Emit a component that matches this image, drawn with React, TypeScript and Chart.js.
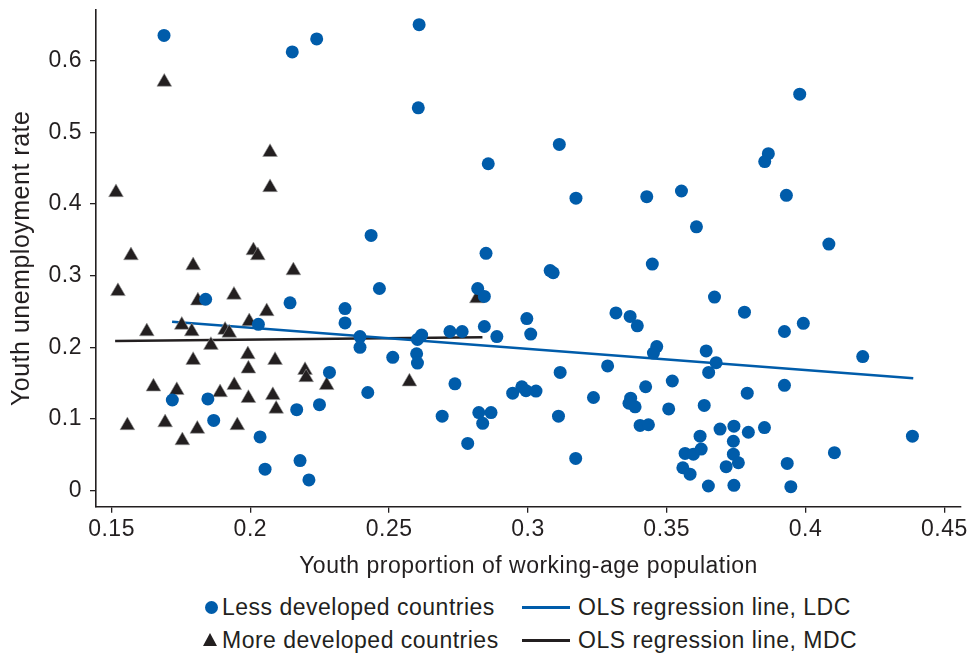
import React, { useEffect, useRef } from 'react';
import { Chart, registerables } from 'chart.js';

Chart.register(...registerables);

// ---------- data ----------
const ldcX = [
  0.1689, 0.2151, 0.2239, 0.2608, 0.2605, 0.3113, 0.2857, 0.3173, 0.3428, 0.2435,
  0.2849, 0.308, 0.3091, 0.3979, 0.3866, 0.3853, 0.3553, 0.3931, 0.3607, 0.4084,
  0.3448, 0.1839, 0.1719, 0.1847, 0.1868, 0.2029, 0.2143, 0.2341, 0.2341, 0.2285,
  0.2167, 0.2249, 0.2035, 0.2053, 0.2179, 0.2211, 0.2465, 0.2395, 0.2395, 0.2513,
  0.2617, 0.2602, 0.2599, 0.2602, 0.2423, 0.2719, 0.2763, 0.2819, 0.2843, 0.2843,
  0.2888, 0.2996, 0.301, 0.2737, 0.2691, 0.2823, 0.2867, 0.2837, 0.2783, 0.2945,
  0.2978, 0.2993, 0.3029, 0.311, 0.3116, 0.3672, 0.378, 0.3317, 0.3368, 0.3394,
  0.3464, 0.3452, 0.3642, 0.3678, 0.3651, 0.379, 0.3635, 0.3287, 0.3236, 0.3424,
  0.352, 0.337, 0.3364, 0.3386, 0.3507, 0.3404, 0.3434, 0.3172, 0.3692, 0.3742,
  0.3794, 0.3852, 0.362, 0.374, 0.3566, 0.3596, 0.3624, 0.374, 0.3758, 0.3714,
  0.3558, 0.3584, 0.365, 0.3742, 0.3924, 0.3992, 0.4206, 0.3924, 0.4385, 0.4104,
  0.3934, 0.3947,
];
const ldcY = [
  0.635, 0.612, 0.63, 0.65, 0.534, 0.483, 0.456, 0.408, 0.41, 0.356,
  0.331, 0.307, 0.304, 0.553, 0.47, 0.459, 0.418, 0.412, 0.368, 0.344,
  0.316, 0.267, 0.1265, 0.128, 0.098, 0.232, 0.262, 0.254, 0.234, 0.165,
  0.113, 0.12, 0.075, 0.03, 0.042, 0.015, 0.282, 0.215, 0.2, 0.186,
  0.217, 0.211, 0.191, 0.178, 0.137, 0.222, 0.222, 0.282, 0.271, 0.229,
  0.215, 0.24, 0.2185, 0.149, 0.104, 0.109, 0.109, 0.094, 0.066, 0.136,
  0.145, 0.1395, 0.139, 0.104, 0.165, 0.27, 0.249, 0.248, 0.243, 0.23,
  0.201, 0.192, 0.195, 0.1785, 0.165, 0.136, 0.119, 0.174, 0.13, 0.145,
  0.153, 0.129, 0.122, 0.117, 0.114, 0.091, 0.092, 0.045, 0.086, 0.09,
  0.0815, 0.088, 0.076, 0.069, 0.052, 0.051, 0.058, 0.051, 0.039, 0.0335,
  0.032, 0.023, 0.0066, 0.0075, 0.222, 0.2335, 0.187, 0.147, 0.076, 0.053,
  0.038, 0.0056,
];
const mdcX = [
  0.169, 0.1516, 0.157, 0.1523, 0.1794, 0.1557, 0.1627, 0.1753, 0.1789, 0.1858,
  0.1811, 0.1941, 0.1909, 0.1924, 0.1996, 0.1991, 0.1993, 0.1794, 0.1651, 0.1735,
  0.1891, 0.1942, 0.1993, 0.1693, 0.1809, 0.1755, 0.1953, 0.2011, 0.2027, 0.2071,
  0.2071, 0.2155, 0.2059, 0.2089, 0.2197, 0.2201, 0.2275, 0.2081, 0.2093, 0.2573,
  0.2816,
];
const mdcY = [
  0.57, 0.416, 0.328, 0.278, 0.314, 0.091, 0.222, 0.231, 0.222, 0.203,
  0.265, 0.273, 0.224, 0.22, 0.236, 0.19, 0.17, 0.182, 0.145, 0.14,
  0.137, 0.147, 0.129, 0.095, 0.086, 0.07, 0.091, 0.335, 0.328, 0.472,
  0.423, 0.307, 0.25, 0.182, 0.168, 0.158, 0.147, 0.133, 0.114, 0.152,
  0.268,
];
const olsLdcX = [0.1718, 0.4388];
const olsLdcY = [0.2357, 0.1568];
const olsMdcX = [0.1513, 0.2836];
const olsMdcY = [0.2088, 0.214];

const xTicks = [0.15, 0.2, 0.25, 0.3, 0.35, 0.4, 0.45];
const xTickLabels = ['0.15', '0.2', '0.25', '0.3', '0.35', '0.4', '0.45'];
const yTicks = [0, 0.1, 0.2, 0.3, 0.4, 0.5, 0.6];
const yTickLabels = ['0', '0.1', '0.2', '0.3', '0.4', '0.5', '0.6'];
const xMin = 0.1444;
const xMax = 0.456;
const yMin = -0.0223;
const yMax = 0.6704;

const seriesLabels = [
  'Less developed countries',
  'More developed countries',
  'OLS regression line, LDC',
  'OLS regression line, MDC',
];
const xTitle = 'Youth proportion of working-age population';
const yTitle = 'Youth unemployment rate';

// ---------- style ----------
const BLUE = '#005CAA';
const DARK = '#231F20';
const FONT = '"Liberation Sans", Arial, sans-serif';
const FONT_SIZE = 23;
const SPACING = '0.5px';

const zip = (xs: number[], ys: number[]) => xs.map((x, i) => ({ x, y: ys[i] }));

const spacingPlugin = {
  id: 'letterSpacing',
  beforeDraw(chart: any) {
    try {
      chart.ctx.letterSpacing = SPACING;
    } catch (e) {
      /* ignore */
    }
  },
};

export default function App() {
  const ref = useRef<HTMLCanvasElement | null>(null);

  useEffect(() => {
    if (!ref.current) return;
    const chart = new Chart(ref.current, {
      type: 'scatter',
      data: {
        datasets: [
          {
            label: seriesLabels[0],
            data: zip(ldcX, ldcY),
            backgroundColor: BLUE,
            borderWidth: 0,
            pointStyle: 'circle',
            pointRadius: 6.5,
          },
          {
            label: seriesLabels[1],
            data: zip(mdcX, mdcY),
            backgroundColor: DARK,
            borderColor: '#9a9a9a',
            borderWidth: 0.6,
            pointStyle: 'triangle',
            pointRadius: 8.5,
          },
          {
            type: 'line',
            label: seriesLabels[2],
            data: zip(olsLdcX, olsLdcY),
            borderColor: BLUE,
            borderWidth: 2.6,
            pointRadius: 0,
            showLine: true,
            fill: false,
          },
          {
            type: 'line',
            label: seriesLabels[3],
            data: zip(olsMdcX, olsMdcY),
            borderColor: DARK,
            borderWidth: 2.6,
            pointRadius: 0,
            showLine: true,
            fill: false,
          },
        ],
      },
      plugins: [spacingPlugin],
      options: {
        animation: false,
        responsive: false,
        devicePixelRatio: 1,
        layout: { padding: { top: 10, right: 12, bottom: 0, left: 0 } },
        plugins: {
          legend: { display: false },
          tooltip: { enabled: false },
        },
        scales: {
          x: {
            type: 'linear',
            position: 'bottom',
            min: xMin,
            max: xMax,
            afterBuildTicks: (s: any) => {
              s.ticks = xTicks.map((v) => ({ value: v }));
            },
            afterFit: (s: any) => {
              s.height = 83.3;
              s.paddingLeft = 0;
              s.paddingRight = 0;
            },
            ticks: {
              color: DARK,
              font: { family: FONT, size: FONT_SIZE },
              padding: 3.5,
              maxRotation: 0,
              autoSkip: false,
              callback: (_v: any, i: number) => xTickLabels[i],
            },
            grid: {
              drawOnChartArea: false,
              drawTicks: true,
              tickLength: 6,
              color: DARK,
              lineWidth: 1.3,
            },
            border: { display: true, color: DARK, width: 1.6 },
            title: {
              display: true,
              text: xTitle,
              color: DARK,
              font: { family: FONT, size: FONT_SIZE },
              padding: { top: 0, bottom: 10 },
            },
          },
          y: {
            type: 'linear',
            min: yMin,
            max: yMax,
            afterBuildTicks: (s: any) => {
              s.ticks = yTicks.map((v) => ({ value: v }));
            },
            afterFit: (s: any) => {
              s.width = 96;
              s.paddingTop = 0;
              s.paddingBottom = 0;
            },
            ticks: {
              color: DARK,
              font: { family: FONT, size: FONT_SIZE },
              padding: 8,
              autoSkip: false,
              callback: (_v: any, i: number) => yTickLabels[i],
            },
            grid: {
              drawOnChartArea: false,
              drawTicks: true,
              tickLength: 6,
              color: DARK,
              lineWidth: 1.3,
            },
            border: { display: true, color: DARK, width: 1.6 },
            title: {
              display: true,
              text: yTitle,
              color: DARK,
              font: { family: FONT, size: 25 },
              padding: { top: 7, bottom: 0 },
            },
          },
        },
      },
    } as any);
    return () => chart.destroy();
  }, []);

  const textStyle: React.CSSProperties = {
    position: 'absolute',
    fontFamily: FONT,
    fontSize: FONT_SIZE,
    letterSpacing: SPACING,
    lineHeight: '26px',
    color: DARK,
    whiteSpace: 'nowrap',
  };

  return (
    <div style={{ position: 'absolute', left: 0, top: 0, width: 973, height: 657, background: '#fff' }}>
      <canvas ref={ref} width={973} height={590} style={{ position: 'absolute', left: 0, top: 0, width: 973, height: 590 }} />
      {/* legend row 1 */}
      <div style={{ position: 'absolute', left: 204.5, top: 600.5, width: 13, height: 13, borderRadius: '50%', background: BLUE }} />
      <div style={{ ...textStyle, left: 222, top: 594 }}>{seriesLabels[0]}</div>
      <div style={{ position: 'absolute', left: 522, top: 606, width: 48, height: 2.6, background: BLUE }} />
      <div style={{ ...textStyle, left: 578, top: 594 }}>{seriesLabels[2]}</div>
      {/* legend row 2 */}
      <div
        style={{
          position: 'absolute',
          left: 203,
          top: 633,
          width: 0,
          height: 0,
          borderLeft: '7.5px solid transparent',
          borderRight: '7.5px solid transparent',
          borderBottom: `13px solid ${DARK}`,
        }}
      />
      <div style={{ ...textStyle, left: 222, top: 627 }}>{seriesLabels[1]}</div>
      <div style={{ position: 'absolute', left: 522, top: 639, width: 48, height: 2.6, background: DARK }} />
      <div style={{ ...textStyle, left: 578, top: 627 }}>{seriesLabels[3]}</div>
    </div>
  );
}
